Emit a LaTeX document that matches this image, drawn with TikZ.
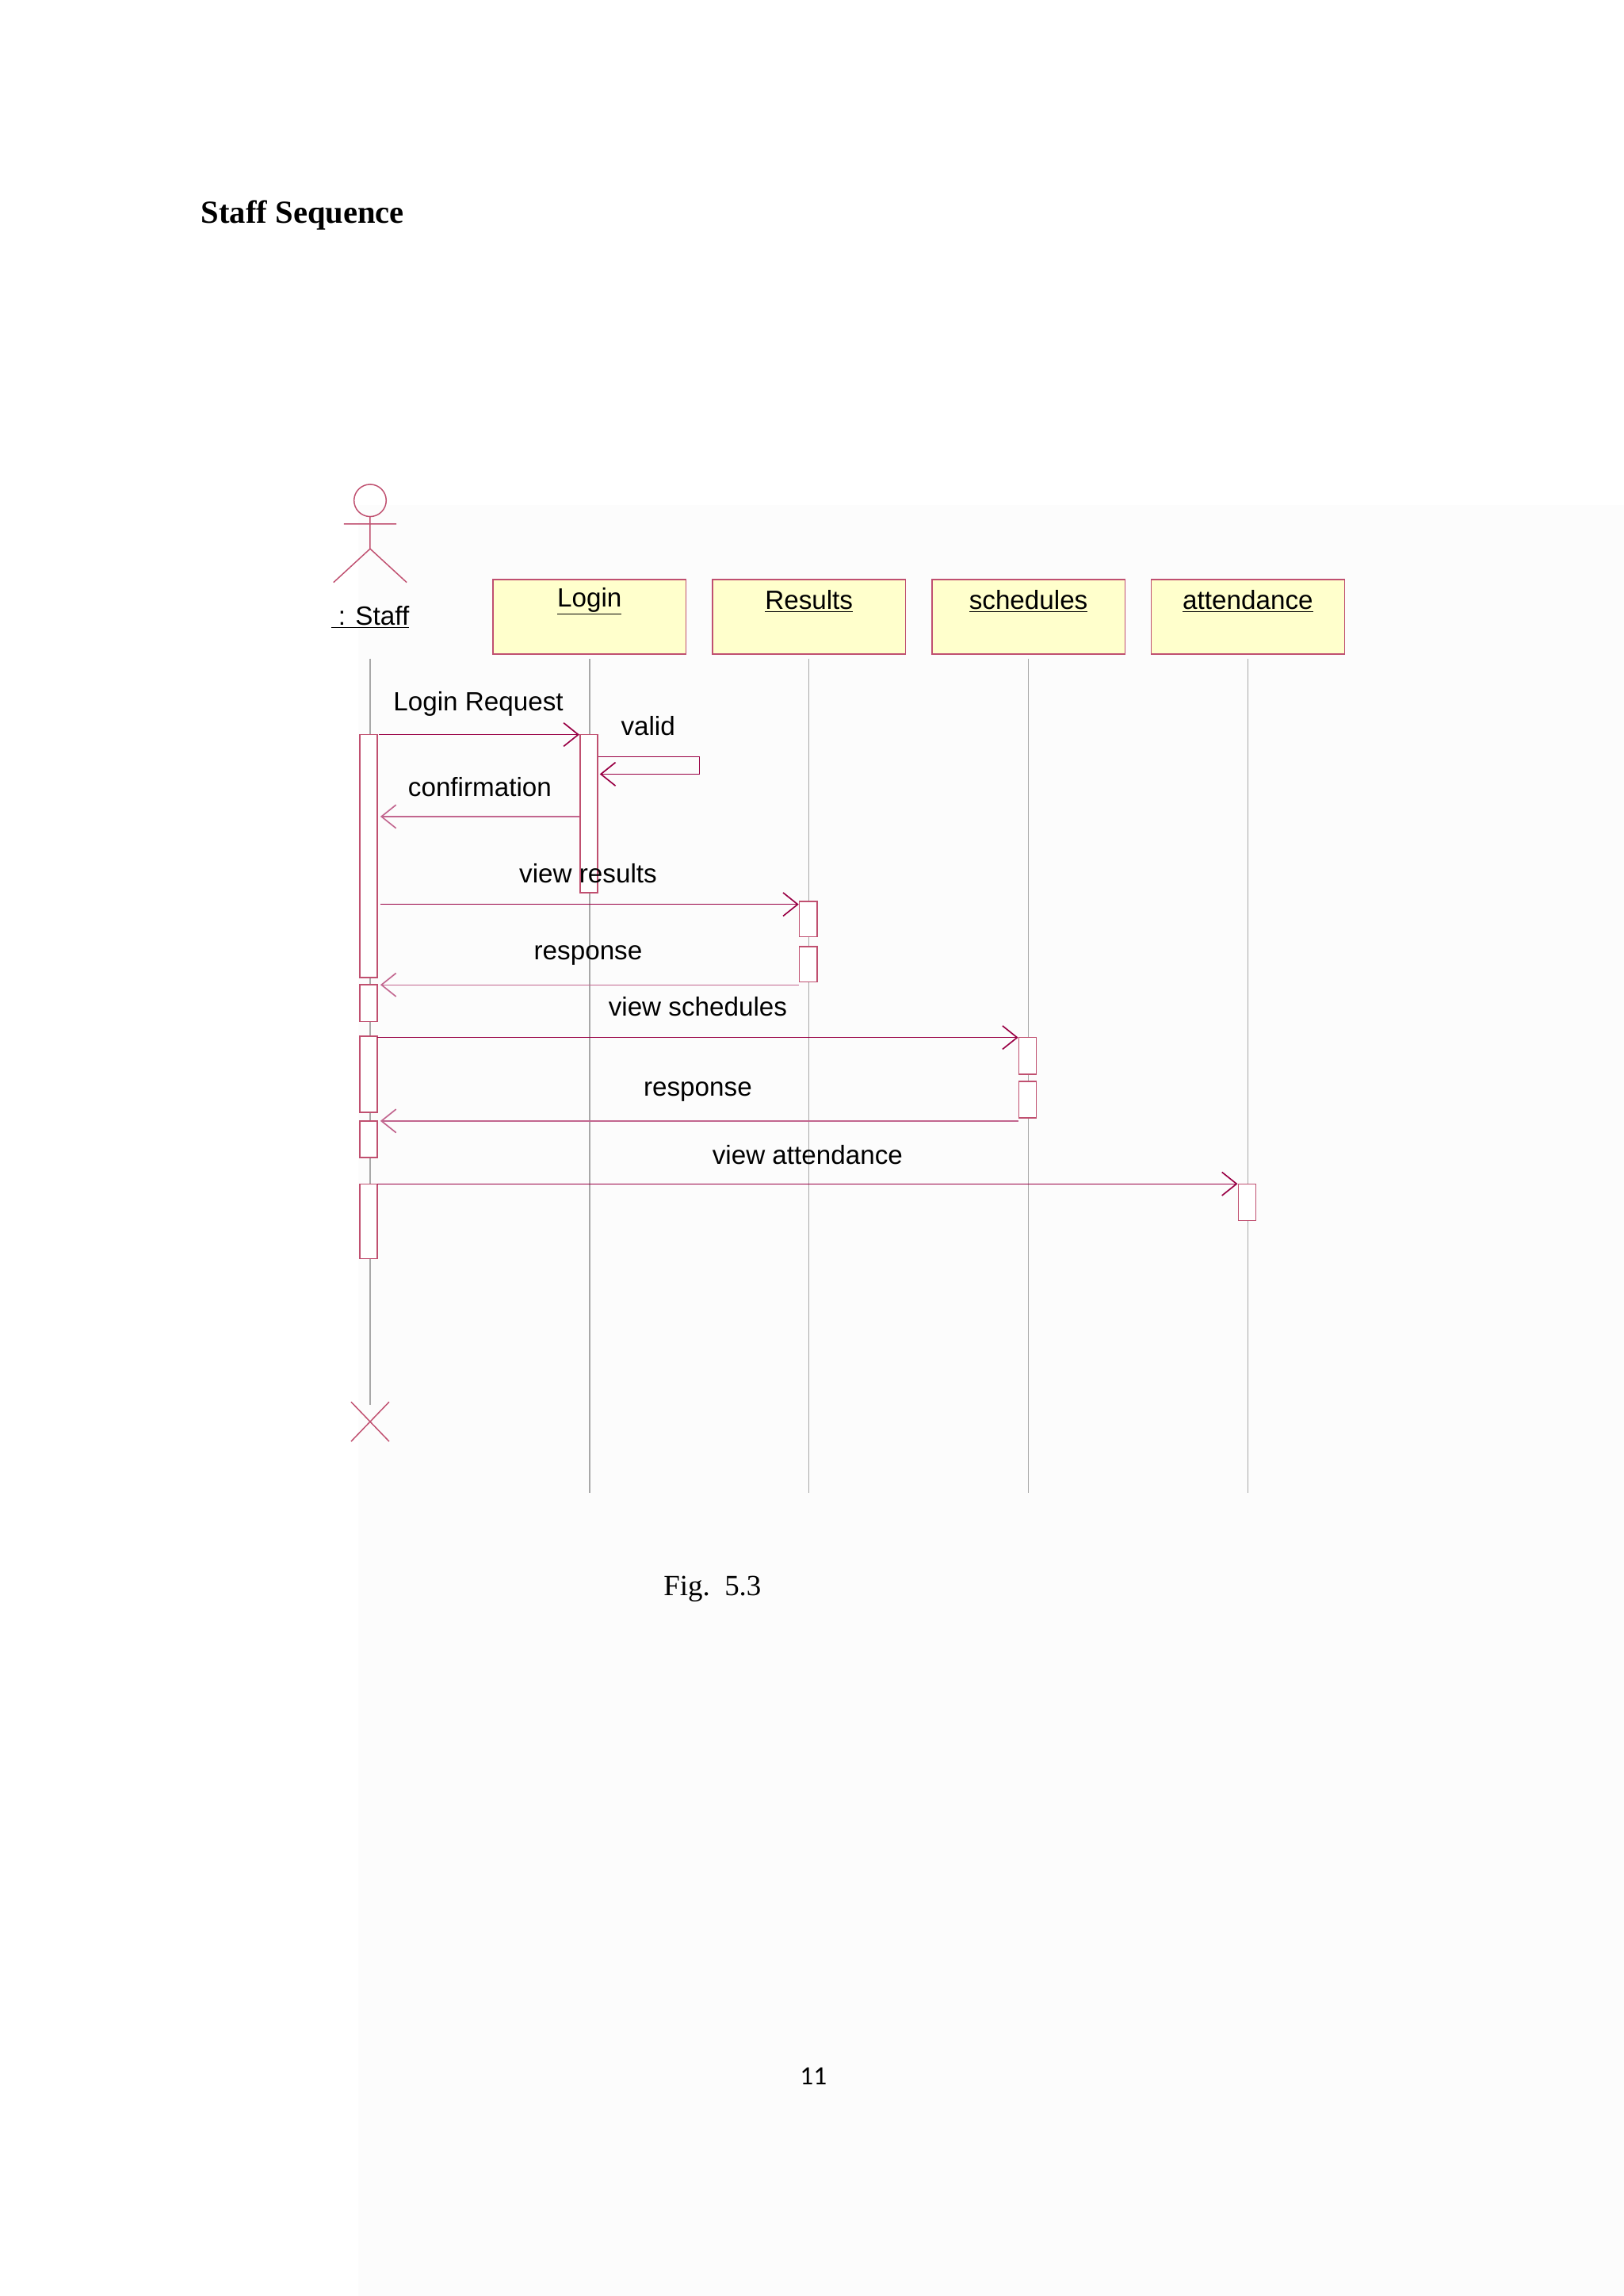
\documentclass[tikz,border=0pt]{standalone}
\usepackage{fontspec}
\setmainfont{Liberation Serif}
\setsansfont{Liberation Sans}
\newfontfamily\calib{Carlito}
\usetikzlibrary{arrows.meta}
\definecolor{mc}{HTML}{990044}
\definecolor{bc}{HTML}{C05070}
\definecolor{by}{HTML}{FFFFCC}
\definecolor{lg}{HTML}{A8A8A8}
\tikzset{
  obj/.style={draw=bc,fill=by,line width=0.8pt},
  act/.style={draw=bc,fill=white,line width=0.8pt},
  life/.style={draw=lg,line width=0.8pt},
  msg/.style={draw=mc,line width=0.7pt,-{Straight Barb[length=10pt,width=16pt,line width=0.9pt]}},
  ret/.style={draw=mc!60,line width=0.7pt,-{Straight Barb[length=10pt,width=16pt,line width=0.9pt]}},
  lab/.style={font=\sffamily\fontsize{18}{20}\selectfont,inner sep=0pt},
  ulab/.style={font=\sffamily\fontsize{18}{20}\selectfont,inner sep=1pt}
}
\begin{document}
\begin{tikzpicture}[x=1pt,y=-1pt]
\useasboundingbox (0,0) rectangle (1110,1569);
\fill[white] (0,0) rectangle (1110,1569);
\fill[black!1] (245,345) rectangle (1110,1569);
\node[anchor=west,font=\bfseries\fontsize{22}{24}\selectfont] (title) at (134,147) {Staff Sequence};
% actor
\draw[bc,line width=0.8pt] (253,342) circle (11);
\draw[bc,line width=0.8pt] (253,353)--(253,375) (235,358)--(271,358) (228,398)--(253,375)--(278,398);
\node[ulab] (staff) at (253,422) {\underline{\ : Staff}};
% objects
\foreach \n/\x/\t in {login/403/Login,results/553/Results,sched/703/schedules,att/853/attendance}{
  \node[obj,minimum width=132pt,minimum height=51pt,inner sep=0pt] (\n) at (\x,421.5) {};
  \node[ulab] at (\x,411) {\underline{\t}};
  \draw[life] (\x,450)--(\x,1020);
}
\draw[life] (253,450)--(253,960);
\draw[bc,line width=0.8pt] (240,958)--(266,985) (266,958)--(240,985);
% activations
\foreach \x/\a/\b in {252/502/668,252/673/698,252/708/760,252/766/791,252/809/860,402.5/502/610,552.5/616/640,552.5/647/671,702.5/709/734,702.5/739/764,852.5/809/834}{
  \draw[act] (\x-6,\a) rectangle (\x+6,\b);
}
% messages
\coordinate (a1) at (259,502); \coordinate (b1) at (396,502);
\draw[msg] (a1)--(b1);
\node[lab] at (327,481) {Login Request};
\draw[msg] (409,517)--(478,517)--(478,529)--(410,529);
\node[lab] at (443,496) {valid};
\draw[ret] (396,558)--(260,558);
\node[lab] at (328,538) {confirmation};
\draw[msg] (260,618)--(546,618);
\node[lab] at (402,597) {view results};
\draw[ret] (546,673)--(260,673);
\node[lab] at (402,653) {response};
\draw[msg] (258,709)--(696,709);
\node[lab] at (477,688) {view schedules};
\draw[ret] (696,766)--(260,766);
\node[lab] at (477,746) {response};
\draw[msg] (258,809)--(846,809);
\node[lab] at (552,789) {view attendance};
\node[font=\fontsize{20}{22}\selectfont] (fig) at (487,1086) {Fig.\ \ 5.3};
\node[font=\calib\fontsize{18}{20}\selectfont] (pg) at (556,1419) {11};
\end{tikzpicture}
\end{document}
